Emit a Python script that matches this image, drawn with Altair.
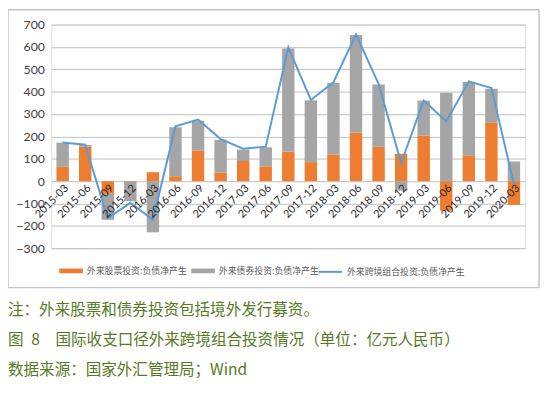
import altair as alt
import pandas as pd

quarters = ["2015-03", "2015-06", "2015-09", "2015-12", "2016-03", "2016-06", "2016-09",
            "2016-12", "2017-03", "2017-06", "2017-09", "2017-12", "2018-03", "2018-06",
            "2018-09", "2018-12", "2019-03", "2019-06", "2019-09", "2019-12", "2020-03"]
equity = [66, 154, -57, -3, 40, 22, 137, 38, 90, 66, 131, 85, 119, 216, 154, 122, 204, -132, 115, 263, -106]
bond = [106, 7, -116, -87, -229, 219, 133, 147, 51, 85, 462, 276, 320, 437, 278, -43, 156, 395, 328, 150, 88]
total = [173, 163, -166, -97, -173, 245, 275, 188, 145, 154, 598, 363, 442, 656, 435, 81, 361, 267, 446, 416, -15]

s_eq = "外来股票投资:负债净产生"
s_bd = "外来债券投资:负债净产生"
s_tot = "外来跨境组合投资:负债净产生"

note_lines = ["注：外来股票和债券投资包括境外发行募资。",
              "图\u20028\u2003国际收支口径外来跨境组合投资情况（单位：亿元人民币）",
              "数据来源：国家外汇管理局；Wind"]

rows = []
for q, e, b in zip(quarters, equity, bond):
    rows.append({"q": q, "s": s_eq, "v": e, "o": 0})
    rows.append({"q": q, "s": s_bd, "v": b, "o": 1})
bars_df = pd.DataFrame(rows)
line_df = pd.DataFrame({"q": quarters, "v": total, "s": [s_tot] * len(quarters)})

FONT = "Lato"
CJK = "Noto Sans CJK SC"
H = 227

xscale = alt.Scale(domain=quarters, paddingInner=0.45, paddingOuter=0.225)
yscale = alt.Scale(domain=[-300, 700], nice=False, zero=False)

xaxis = alt.Axis(title=None, labelAngle=-45, labelAlign="right", labelBaseline="top",
                 labelFont=FONT, labelFontSize=11, labelColor="#262626", labelPadding=1,
                 domain=False, ticks=False, grid=False, offset=-H * 0.3, labelOverlap=False,
                 zindex=2)
yaxis = alt.Axis(title=None, values=list(range(-300, 701, 100)), labelFont=FONT, labelFontSize=12.5,
                 labelColor="#404040", labelPadding=7, domain=False, ticks=False, labelOverlap=False,
                 grid=True, gridColor="#bfbfbf", gridWidth=1)

# frame box around plot + legend (decoration, in pixels relative to plot origin)
FX1, FX2, FY1, FY2 = -44, 495, -15, 267
frame_df = pd.DataFrame({"k": [0]})
frame_style = dict(stroke="#c4c4c4", strokeWidth=1.5)
frame = [
    alt.Chart(frame_df).mark_rule(**frame_style).encode(x=alt.value(FX1), x2=alt.value(FX2), y=alt.value(FY1)),
    alt.Chart(frame_df).mark_rule(**frame_style).encode(x=alt.value(FX1), x2=alt.value(FX2), y=alt.value(FY2)),
    alt.Chart(frame_df).mark_rule(**frame_style).encode(x=alt.value(FX1), y=alt.value(FY1), y2=alt.value(FY2)),
    alt.Chart(frame_df).mark_rule(**frame_style).encode(x=alt.value(FX2), y=alt.value(FY1), y2=alt.value(FY2)),
]

bars = alt.Chart(bars_df).mark_bar().encode(
    x=alt.X("q:N", scale=xscale, axis=xaxis, sort=quarters),
    y=alt.Y("sum(v):Q", scale=yscale, axis=yaxis, stack="zero"),
    color=alt.Color("s:N", scale=alt.Scale(domain=[s_eq, s_bd], range=["#ED7D31", "#A5A5A5"]),
                    legend=alt.Legend(orient="none", legendX=8, legendY=238, direction="horizontal",
                                      title=None, symbolType="M-1,-0.2H1V0.2H-1Z", symbolSize=576,
                                      symbolStrokeWidth=0, labelFont=CJK, labelFontSize=9,
                                      labelColor="#595959", columnPadding=4, labelOffset=4,
                                      labelLimit=300)),
    order=alt.Order("o:Q", sort="ascending"),
)

line = alt.Chart(line_df).mark_line(strokeWidth=2).encode(
    x=alt.X("q:N", scale=xscale, axis=xaxis, sort=quarters),
    y=alt.Y("v:Q", scale=yscale, axis=yaxis),
    stroke=alt.Stroke("s:N", scale=alt.Scale(domain=[s_tot], range=["#5B9BD5"]),
                      legend=alt.Legend(orient="none", legendX=270, legendY=238, direction="horizontal",
                                        title=None, symbolType="stroke", symbolSize=576,
                                        symbolStrokeWidth=2, labelFont=CJK, labelFontSize=9,
                                        labelColor="#595959", labelOffset=4, labelLimit=300)),
)

texts = []
for t, yy in zip(note_lines, [290, 320, 351]):
    texts.append(alt.Chart(pd.DataFrame({"t": [t]})).mark_text(
        align="left", baseline="middle", font=CJK, fontSize=15.8, color="#567a1e"
    ).encode(x=alt.value(-44), y=alt.value(yy), text="t:N"))

chart = alt.layer(bars, line, *texts, *frame).properties(
    width=481, height=H,
    autosize=alt.AutoSizeParams(type="none"),
    padding={"left": 44, "top": 14, "right": 17, "bottom": 136},
).configure_view(strokeWidth=0).configure(background="white")

chart.save("out.html", embed_options={"renderer": "svg", "actions": False})
